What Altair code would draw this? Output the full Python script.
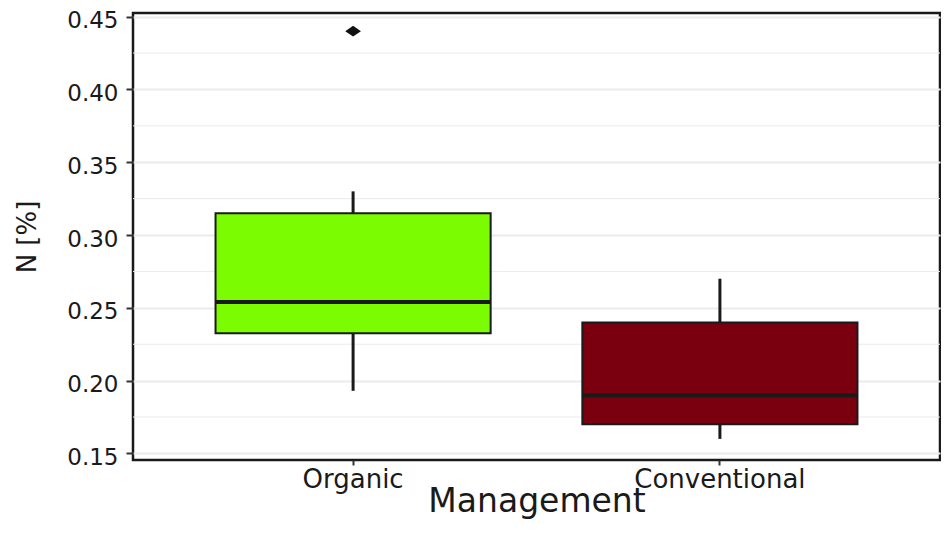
import altair as alt
import pandas as pd

# ---- data ----
management = ["Organic", "Conventional"]
lower_whisker = [0.193, 0.160]
q1 = [0.2325, 0.170]
median = [0.254, 0.190]
q3 = [0.315, 0.240]
upper_whisker = [0.330, 0.270]
fill_colors = ["#7CFC00", "#7B000F"]

outlier_group = ["Organic"]
outlier_value = [0.44]

y_major = [0.15, 0.20, 0.25, 0.30, 0.35, 0.40, 0.45]
y_minor = [0.175, 0.225, 0.275, 0.325, 0.375, 0.425]

df = pd.DataFrame({
    "Management": management,
    "lower": lower_whisker,
    "q1": q1,
    "median": median,
    "q3": q3,
    "upper": upper_whisker,
})
out_df = pd.DataFrame({"Management": outlier_group, "value": outlier_value})
minor_df = pd.DataFrame({"v": y_minor})

yscale = alt.Scale(domain=[0.1455, 0.4525], nice=False, zero=False)
xscale = alt.Scale(domain=management, paddingInner=0.25, paddingOuter=0.225)
YT = "N [%]"
XT = "Management"

minor = alt.Chart(minor_df).mark_rule(color="#EBEBEB", strokeWidth=1).encode(
    y=alt.Y("v:Q", scale=yscale, title=YT)
)

whisk = alt.Chart(df).mark_rule(color="#1a1a1a", strokeWidth=3).encode(
    x=alt.X("Management:N", scale=xscale, title=XT),
    y=alt.Y("lower:Q", scale=yscale, title=YT,
            axis=alt.Axis(values=y_major, format=".2f")),
    y2="upper:Q",
)

box = alt.Chart(df).mark_bar(stroke="#1a1a1a", strokeWidth=2, opacity=1).encode(
    x=alt.X("Management:N", scale=xscale, title=XT),
    y=alt.Y("q1:Q", scale=yscale, title=YT),
    y2="q3:Q",
    color=alt.Color("Management:N",
                    scale=alt.Scale(domain=management, range=fill_colors),
                    legend=None),
)

med = alt.Chart(df).mark_rule(color="#1a1a1a", strokeWidth=4).encode(
    x=alt.X("Management:N", scale=xscale, title=XT, bandPosition=0),
    x2=alt.X2("Management:N", bandPosition=1),
    y=alt.Y("median:Q", scale=yscale, title=YT),
)

outl = alt.Chart(out_df).mark_point(
    shape="M-1,0L0,-0.68L1,0L0,0.68Z", filled=True, size=246,
    color="#111111", opacity=1
).encode(
    x=alt.X("Management:N", scale=xscale, title=XT),
    y=alt.Y("value:Q", scale=yscale, title=YT),
)

chart = alt.layer(minor, whisk, box, med, outl).properties(
    width=807,
    height=447,
    autosize=alt.AutoSizeParams(type="none"),
    padding={"left": 125, "top": 5, "right": 1, "bottom": 65},
    background="white",
).configure_view(
    stroke="#1a1a1a", strokeWidth=2.5
).configure_axis(
    domain=False,
    gridColor="#EBEBEB",
    gridWidth=2,
    tickColor="#333333",
    tickWidth=2,
    labelColor="#1a1a1a",
    titleColor="#1a1a1a",
    labelFont="DejaVu Sans",
    titleFont="DejaVu Sans",
    titleFontWeight="normal",
).configure_axisX(
    labelFontSize=26,
    tickSize=5,
    labelPadding=22,
    labelBaseline="alphabetic",
    labelAngle=0,
    titleFontSize=33,
    titleY=51,
    titleBaseline="alphabetic",
).configure_axisY(
    labelFontSize=23,
    tickSize=7,
    labelPadding=8,
    labelOffset=4,
    titleFontSize=26,
    titleX=-106,
    titleY=223.5,
    titleAngle=270,
    titleAlign="center",
    titleBaseline="middle",
)

chart.save("out.html", embed_options={"renderer": "svg", "actions": False})
